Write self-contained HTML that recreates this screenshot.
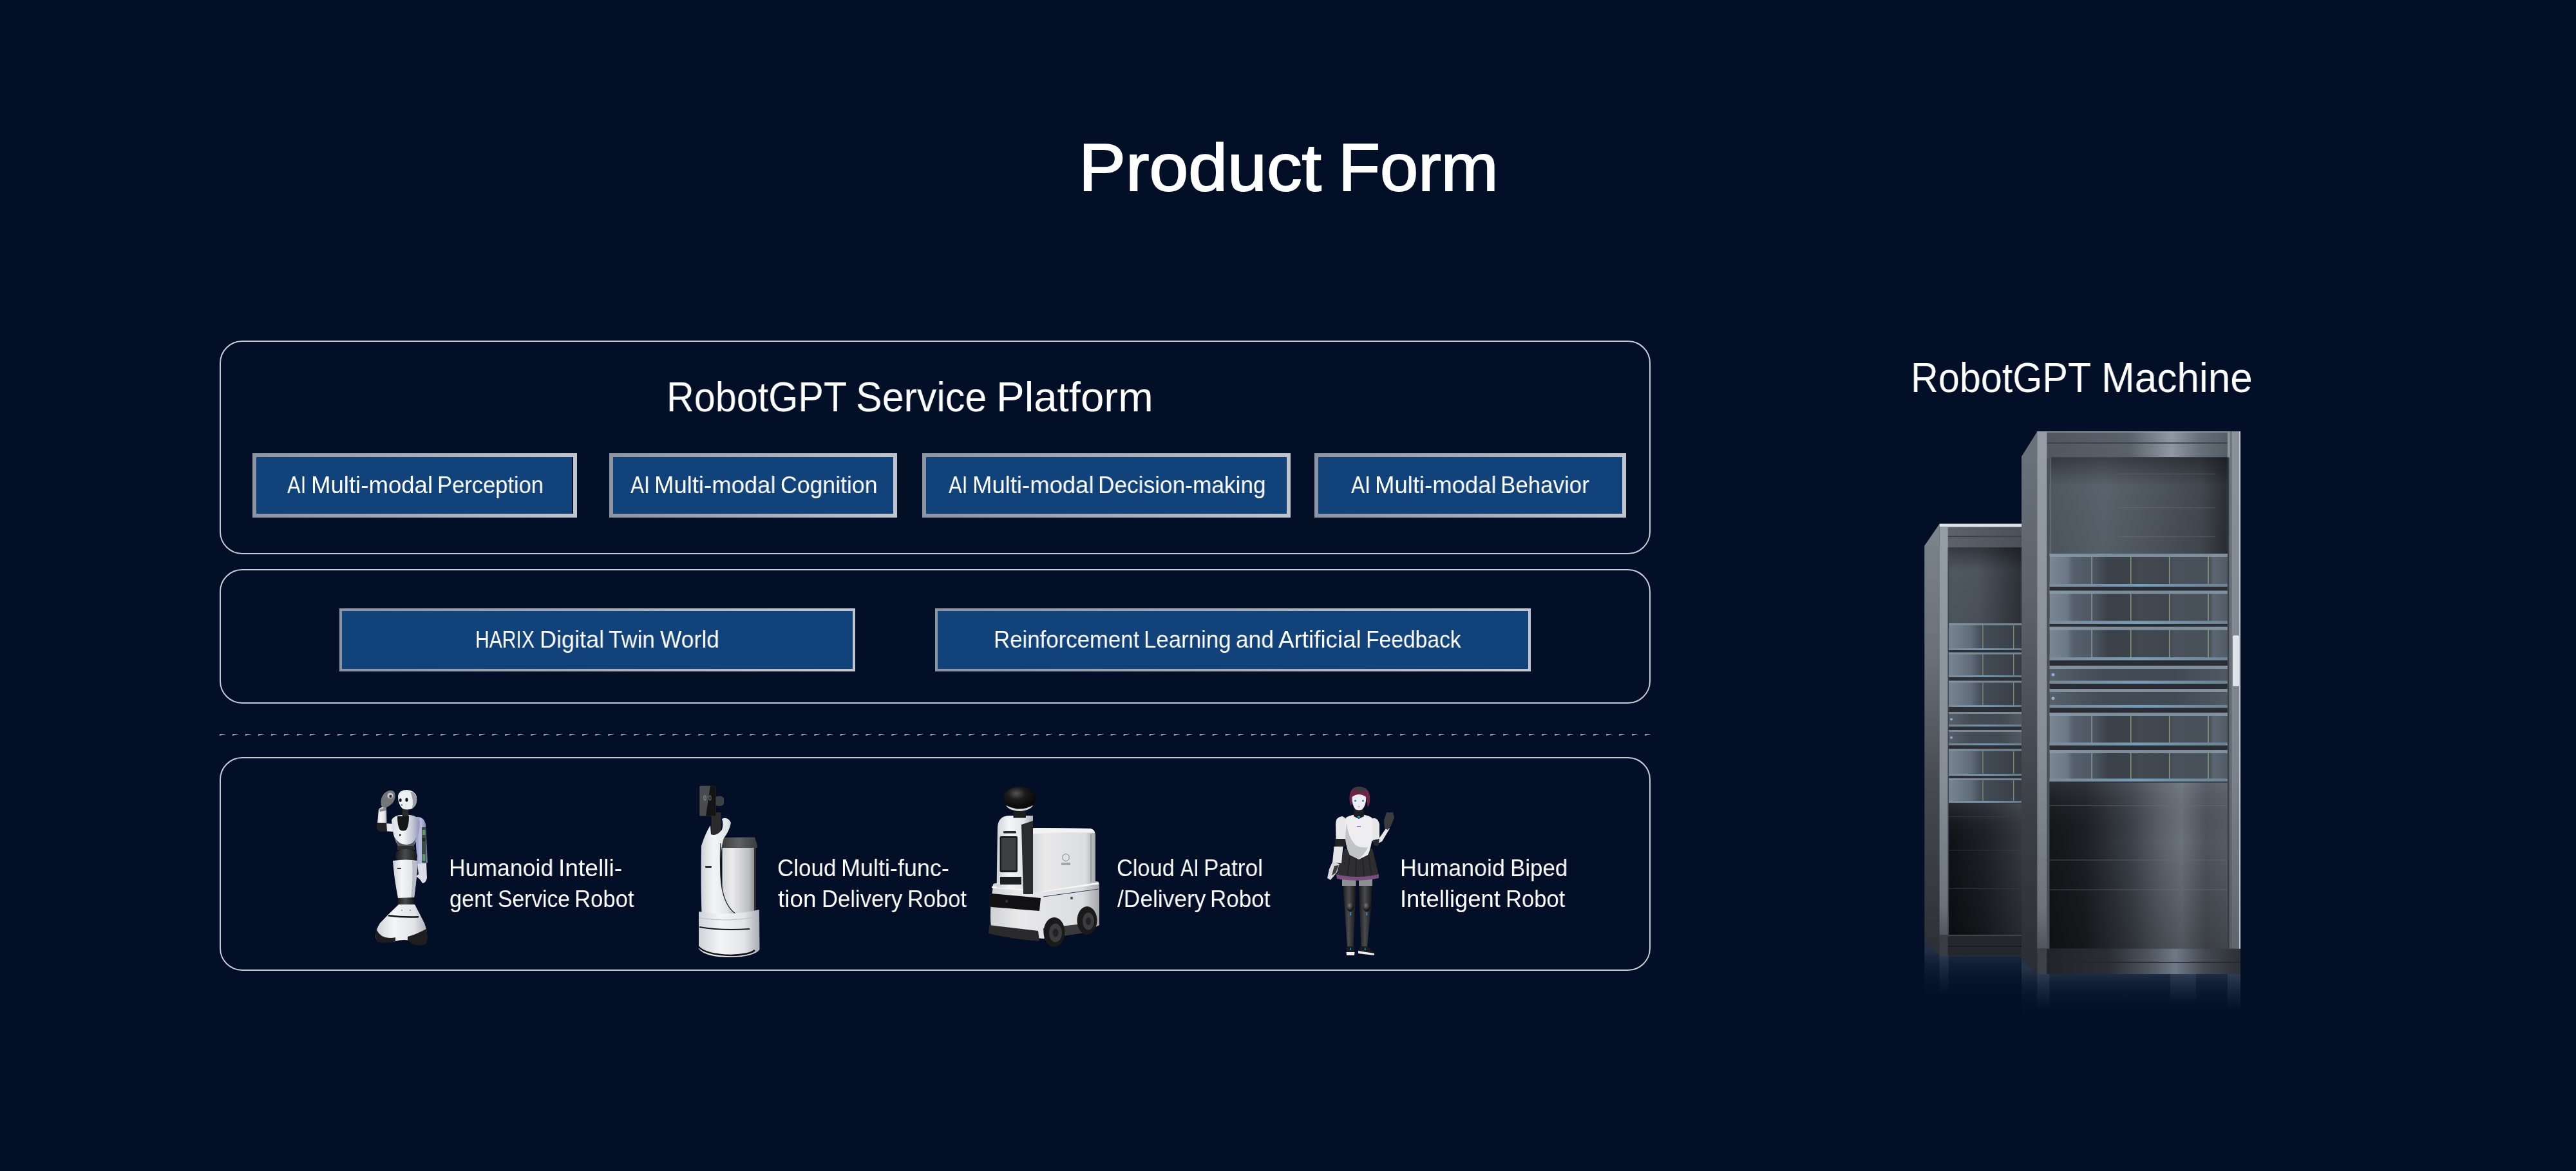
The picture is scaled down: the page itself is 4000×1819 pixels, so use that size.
<!DOCTYPE html>
<html><head><meta charset="utf-8"><title>Product Form</title>
<style>
*{margin:0;padding:0;box-sizing:border-box}
html,body{width:4000px;height:1819px;overflow:hidden;background:#020f27}
body{position:relative;font-family:"Liberation Sans",sans-serif;color:#fff}
.t{position:absolute;white-space:nowrap;line-height:1;transform-origin:0 0;will-change:transform}
.box{position:absolute;left:341px;width:2222px;border:2px solid #c8cbd3;border-radius:35px}
.btn{position:absolute;border:6px solid transparent;background:linear-gradient(#11437a,#11437a) padding-box,linear-gradient(90deg,#8d94a2,#c0c4cd) border-box}
.btn2{border-width:4px}
</style></head>
<body>

<div class="box" style="top:529px;height:332px"></div>
<div class="box" style="top:884px;height:209px"></div>
<!--DASH--><svg style="position:absolute;left:0;top:1130px" width="2600" height="20" viewBox="0 1130 2600 20"><defs><linearGradient id="dg" x1="0" y1="0" x2="1" y2="0"><stop offset="0" stop-color="#a7adba"/><stop offset="1" stop-color="#6f7688"/></linearGradient></defs><path d="M341.00,1140.1 L350.00,1139.9 L350.00,1140.5 L341.00,1143.1 Z M361.00,1140.1 L370.00,1139.9 L370.00,1140.5 L361.00,1143.1 Z M381.00,1140.1 L390.00,1139.9 L390.00,1140.5 L381.00,1143.1 Z M401.00,1140.1 L410.00,1139.9 L410.00,1140.5 L401.00,1143.1 Z M421.00,1140.1 L430.00,1139.9 L430.00,1140.5 L421.00,1143.1 Z M441.00,1140.1 L450.00,1139.9 L450.00,1140.5 L441.00,1143.1 Z M461.00,1140.1 L470.00,1139.9 L470.00,1140.5 L461.00,1143.1 Z M481.00,1140.1 L490.00,1139.9 L490.00,1140.5 L481.00,1143.1 Z M504.05,1140.1 L513.05,1139.9 L513.05,1140.5 L504.05,1143.1 Z M524.06,1140.1 L533.06,1139.9 L533.06,1140.5 L524.06,1143.1 Z M544.07,1140.1 L553.07,1139.9 L553.07,1140.5 L544.07,1143.1 Z M564.08,1140.1 L573.08,1139.9 L573.08,1140.5 L564.08,1143.1 Z M584.09,1140.1 L593.09,1139.9 L593.09,1140.5 L584.09,1143.1 Z M604.10,1140.1 L613.10,1139.9 L613.10,1140.5 L604.10,1143.1 Z M624.11,1140.1 L633.11,1139.9 L633.11,1140.5 L624.11,1143.1 Z M644.12,1140.1 L653.12,1139.9 L653.12,1140.5 L644.12,1143.1 Z M664.13,1140.1 L673.13,1139.9 L673.13,1140.5 L664.13,1143.1 Z M684.14,1140.1 L693.14,1139.9 L693.14,1140.5 L684.14,1143.1 Z M704.15,1140.1 L713.15,1139.9 L713.15,1140.5 L704.15,1143.1 Z M724.16,1140.1 L733.16,1139.9 L733.16,1140.5 L724.16,1143.1 Z M744.17,1140.1 L753.17,1139.9 L753.17,1140.5 L744.17,1143.1 Z M764.18,1140.1 L773.18,1139.9 L773.18,1140.5 L764.18,1143.1 Z M784.19,1140.1 L793.19,1139.9 L793.19,1140.5 L784.19,1143.1 Z M804.20,1140.1 L813.20,1139.9 L813.20,1140.5 L804.20,1143.1 Z M824.21,1140.1 L833.21,1139.9 L833.21,1140.5 L824.21,1143.1 Z M844.22,1140.1 L853.22,1139.9 L853.22,1140.5 L844.22,1143.1 Z M864.23,1140.1 L873.23,1139.9 L873.23,1140.5 L864.23,1143.1 Z M884.24,1140.1 L893.24,1139.9 L893.24,1140.5 L884.24,1143.1 Z M904.25,1140.1 L913.25,1139.9 L913.25,1140.5 L904.25,1143.1 Z M924.26,1140.1 L933.26,1139.9 L933.26,1140.5 L924.26,1143.1 Z M944.27,1140.1 L953.27,1139.9 L953.27,1140.5 L944.27,1143.1 Z M964.28,1140.1 L973.28,1139.9 L973.28,1140.5 L964.28,1143.1 Z M984.29,1140.1 L993.29,1139.9 L993.29,1140.5 L984.29,1143.1 Z M1004.30,1140.1 L1013.30,1139.9 L1013.30,1140.5 L1004.30,1143.1 Z M1024.31,1140.1 L1033.31,1139.9 L1033.31,1140.5 L1024.31,1143.1 Z M1044.32,1140.1 L1053.32,1139.9 L1053.32,1140.5 L1044.32,1143.1 Z M1064.33,1140.1 L1073.33,1139.9 L1073.33,1140.5 L1064.33,1143.1 Z M1084.34,1140.1 L1093.34,1139.9 L1093.34,1140.5 L1084.34,1143.1 Z M1104.35,1140.1 L1113.35,1139.9 L1113.35,1140.5 L1104.35,1143.1 Z M1124.36,1140.1 L1133.36,1139.9 L1133.36,1140.5 L1124.36,1143.1 Z M1144.38,1140.1 L1153.38,1139.9 L1153.38,1140.5 L1144.38,1143.1 Z M1164.39,1140.1 L1173.39,1139.9 L1173.39,1140.5 L1164.39,1143.1 Z M1184.40,1140.1 L1193.40,1139.9 L1193.40,1140.5 L1184.40,1143.1 Z M1204.41,1140.1 L1213.41,1139.9 L1213.41,1140.5 L1204.41,1143.1 Z M1224.42,1140.1 L1233.42,1139.9 L1233.42,1140.5 L1224.42,1143.1 Z M1244.43,1140.1 L1253.43,1139.9 L1253.43,1140.5 L1244.43,1143.1 Z M1264.44,1140.1 L1273.44,1139.9 L1273.44,1140.5 L1264.44,1143.1 Z M1284.45,1140.1 L1293.45,1139.9 L1293.45,1140.5 L1284.45,1143.1 Z M1304.46,1140.1 L1313.46,1139.9 L1313.46,1140.5 L1304.46,1143.1 Z M1324.47,1140.1 L1333.47,1139.9 L1333.47,1140.5 L1324.47,1143.1 Z M1344.48,1140.1 L1353.48,1139.9 L1353.48,1140.5 L1344.48,1143.1 Z M1364.49,1140.1 L1373.49,1139.9 L1373.49,1140.5 L1364.49,1143.1 Z M1384.50,1140.1 L1393.50,1139.9 L1393.50,1140.5 L1384.50,1143.1 Z M1404.51,1140.1 L1413.51,1139.9 L1413.51,1140.5 L1404.51,1143.1 Z M1424.52,1140.1 L1433.52,1139.9 L1433.52,1140.5 L1424.52,1143.1 Z M1444.53,1140.1 L1453.53,1139.9 L1453.53,1140.5 L1444.53,1143.1 Z M1464.54,1140.1 L1473.54,1139.9 L1473.54,1140.5 L1464.54,1143.1 Z M1484.55,1140.1 L1493.55,1139.9 L1493.55,1140.5 L1484.55,1143.1 Z M1504.56,1140.1 L1513.56,1139.9 L1513.56,1140.5 L1504.56,1143.1 Z M1524.57,1140.1 L1533.57,1139.9 L1533.57,1140.5 L1524.57,1143.1 Z M1544.58,1140.1 L1553.58,1139.9 L1553.58,1140.5 L1544.58,1143.1 Z M1564.59,1140.1 L1573.59,1139.9 L1573.59,1140.5 L1564.59,1143.1 Z M1584.60,1140.1 L1593.60,1139.9 L1593.60,1140.5 L1584.60,1143.1 Z M1604.61,1140.1 L1613.61,1139.9 L1613.61,1140.5 L1604.61,1143.1 Z M1624.62,1140.1 L1633.62,1139.9 L1633.62,1140.5 L1624.62,1143.1 Z M1644.63,1140.1 L1653.63,1139.9 L1653.63,1140.5 L1644.63,1143.1 Z M1664.64,1140.1 L1673.64,1139.9 L1673.64,1140.5 L1664.64,1143.1 Z M1684.65,1140.1 L1693.65,1139.9 L1693.65,1140.5 L1684.65,1143.1 Z M1704.66,1140.1 L1713.66,1139.9 L1713.66,1140.5 L1704.66,1143.1 Z M1724.67,1140.1 L1733.67,1139.9 L1733.67,1140.5 L1724.67,1143.1 Z M1744.68,1140.1 L1753.68,1139.9 L1753.68,1140.5 L1744.68,1143.1 Z M1764.69,1140.1 L1773.69,1139.9 L1773.69,1140.5 L1764.69,1143.1 Z M1784.70,1140.1 L1793.70,1139.9 L1793.70,1140.5 L1784.70,1143.1 Z M1802.80,1140.1 L1811.80,1139.9 L1811.80,1140.5 L1802.80,1143.1 Z M1822.80,1140.1 L1831.80,1139.9 L1831.80,1140.5 L1822.80,1143.1 Z M1842.80,1140.1 L1851.80,1139.9 L1851.80,1140.5 L1842.80,1143.1 Z M1862.80,1140.1 L1871.80,1139.9 L1871.80,1140.5 L1862.80,1143.1 Z M1882.80,1140.1 L1891.80,1139.9 L1891.80,1140.5 L1882.80,1143.1 Z M1902.80,1140.1 L1911.80,1139.9 L1911.80,1140.5 L1902.80,1143.1 Z M1922.80,1140.1 L1931.80,1139.9 L1931.80,1140.5 L1922.80,1143.1 Z M1942.80,1140.1 L1951.80,1139.9 L1951.80,1140.5 L1942.80,1143.1 Z M1957.80,1140.1 L1966.80,1139.9 L1966.80,1140.5 L1957.80,1143.1 Z M1973.90,1140.1 L1982.90,1139.9 L1982.90,1140.5 L1973.90,1143.1 Z M1994.00,1140.1 L2003.00,1139.9 L2003.00,1140.5 L1994.00,1143.1 Z M2014.00,1140.1 L2023.00,1139.9 L2023.00,1140.5 L2014.00,1143.1 Z M2034.00,1140.1 L2043.00,1139.9 L2043.00,1140.5 L2034.00,1143.1 Z M2054.00,1140.1 L2063.00,1139.9 L2063.00,1140.5 L2054.00,1143.1 Z M2074.00,1140.1 L2083.00,1139.9 L2083.00,1140.5 L2074.00,1143.1 Z M2094.00,1140.1 L2103.00,1139.9 L2103.00,1140.5 L2094.00,1143.1 Z M2114.00,1140.1 L2123.00,1139.9 L2123.00,1140.5 L2114.00,1143.1 Z M2134.00,1140.1 L2143.00,1139.9 L2143.00,1140.5 L2134.00,1143.1 Z M2154.00,1140.1 L2163.00,1139.9 L2163.00,1140.5 L2154.00,1143.1 Z M2174.00,1140.1 L2183.00,1139.9 L2183.00,1140.5 L2174.00,1143.1 Z M2194.00,1140.1 L2203.00,1139.9 L2203.00,1140.5 L2194.00,1143.1 Z M2214.00,1140.1 L2223.00,1139.9 L2223.00,1140.5 L2214.00,1143.1 Z M2234.00,1140.1 L2243.00,1139.9 L2243.00,1140.5 L2234.00,1143.1 Z M2254.00,1140.1 L2263.00,1139.9 L2263.00,1140.5 L2254.00,1143.1 Z M2274.00,1140.1 L2283.00,1139.9 L2283.00,1140.5 L2274.00,1143.1 Z M2294.00,1140.1 L2303.00,1139.9 L2303.00,1140.5 L2294.00,1143.1 Z M2314.00,1140.1 L2323.00,1139.9 L2323.00,1140.5 L2314.00,1143.1 Z M2334.00,1140.1 L2343.00,1139.9 L2343.00,1140.5 L2334.00,1143.1 Z M2354.00,1140.1 L2363.00,1139.9 L2363.00,1140.5 L2354.00,1143.1 Z M2374.00,1140.1 L2383.00,1139.9 L2383.00,1140.5 L2374.00,1143.1 Z M2394.00,1140.1 L2403.00,1139.9 L2403.00,1140.5 L2394.00,1143.1 Z M2414.00,1140.1 L2423.00,1139.9 L2423.00,1140.5 L2414.00,1143.1 Z M2434.00,1140.1 L2443.00,1139.9 L2443.00,1140.5 L2434.00,1143.1 Z M2454.00,1140.1 L2463.00,1139.9 L2463.00,1140.5 L2454.00,1143.1 Z M2474.00,1140.1 L2483.00,1139.9 L2483.00,1140.5 L2474.00,1143.1 Z M2494.00,1140.1 L2503.00,1139.9 L2503.00,1140.5 L2494.00,1143.1 Z M2514.00,1140.1 L2523.00,1139.9 L2523.00,1140.5 L2514.00,1143.1 Z M2534.00,1140.1 L2543.00,1139.9 L2543.00,1140.5 L2534.00,1143.1 Z M2554.00,1140.1 L2563.00,1139.9 L2563.00,1140.5 L2554.00,1143.1 Z" fill="#949aa8"/></svg><!--/DASH-->
<div class="box" style="top:1176px;height:332px"></div>


<div class="btn" style="left:392px;top:704px;width:504px;height:100px;box-shadow:inset -2px 0 0 #031029"></div>
<div class="btn" style="left:946px;top:704px;width:447px;height:100px"></div>
<div class="btn" style="left:1432px;top:704px;width:572px;height:100px"></div>
<div class="btn" style="left:2041px;top:704px;width:484px;height:100px"></div>

<div class="btn btn2" style="left:527px;top:945px;width:801px;height:98px"></div>
<div class="btn btn2" style="left:1452px;top:945px;width:925px;height:98px"></div>



<!--TXT--><div class="t" style="left:1674.7px;top:208.2px;font-size:104.7px;transform:scaleX(1.0449);-webkit-text-stroke:2px #fff">Product</div>
<div class="t" style="left:2077.9px;top:208.2px;font-size:104.7px;transform:scaleX(1.0173);-webkit-text-stroke:2px #fff">Form</div>
<div class="t" style="left:1035.2px;top:585.0px;font-size:64px;transform:scaleX(0.9264)">RobotGPT</div>
<div class="t" style="left:1329.3px;top:585.0px;font-size:64px;transform:scaleX(0.9529)">Service</div>
<div class="t" style="left:1546.8px;top:585.0px;font-size:64px;transform:scaleX(1.0227)">Platform</div>
<div class="t" style="left:2967.2px;top:555.1px;font-size:64px;transform:scaleX(0.9267)">RobotGPT</div>
<div class="t" style="left:3262.9px;top:555.1px;font-size:64px;transform:scaleX(0.9705)">Machine</div>
<div class="t" style="left:446.4px;top:736.2px;font-size:36.6px;transform:scaleX(0.8452)">AI</div>
<div class="t" style="left:483.2px;top:736.2px;font-size:36.6px;transform:scaleX(0.9989)">Multi-modal</div>
<div class="t" style="left:679.1px;top:736.2px;font-size:36.6px;transform:scaleX(0.9435)">Perception</div>
<div class="t" style="left:979.3px;top:736.2px;font-size:36.6px;transform:scaleX(0.8613)">AI</div>
<div class="t" style="left:1016.4px;top:736.2px;font-size:36.6px;transform:scaleX(0.9973)">Multi-modal</div>
<div class="t" style="left:1211.6px;top:736.2px;font-size:36.6px;transform:scaleX(0.9740)">Cognition</div>
<div class="t" style="left:1473.3px;top:736.1px;font-size:36.6px;transform:scaleX(0.8484)">AI</div>
<div class="t" style="left:1510.1px;top:736.1px;font-size:36.6px;transform:scaleX(0.9973)">Multi-modal</div>
<div class="t" style="left:1704.6px;top:736.1px;font-size:36.6px;transform:scaleX(0.9638)">Decision-making</div>
<div class="t" style="left:2098.3px;top:736.1px;font-size:36.6px;transform:scaleX(0.8645)">AI</div>
<div class="t" style="left:2135.1px;top:736.1px;font-size:36.6px;transform:scaleX(0.9973)">Multi-modal</div>
<div class="t" style="left:2330.1px;top:736.1px;font-size:36.6px;transform:scaleX(0.9546)">Behavior</div>
<div class="t" style="left:738.3px;top:976.1px;font-size:36.6px;transform:scaleX(0.8222)">HARIX</div>
<div class="t" style="left:838.0px;top:976.1px;font-size:36.6px;transform:scaleX(0.9854)">Digital</div>
<div class="t" style="left:945.2px;top:976.1px;font-size:36.6px;transform:scaleX(0.9569)">Twin</div>
<div class="t" style="left:1024.9px;top:976.1px;font-size:36.6px;transform:scaleX(0.9688)">World</div>
<div class="t" style="left:1542.6px;top:976.3px;font-size:36.6px;transform:scaleX(0.9515)">Reinforcement</div>
<div class="t" style="left:1776.3px;top:976.3px;font-size:36.6px;transform:scaleX(0.9526)">Learning</div>
<div class="t" style="left:1918.5px;top:976.3px;font-size:36.6px;transform:scaleX(0.9655)">and</div>
<div class="t" style="left:1985.1px;top:976.3px;font-size:36.6px;transform:scaleX(1.0056)">Artificial</div>
<div class="t" style="left:2121.1px;top:976.3px;font-size:36.6px;transform:scaleX(0.9197)">Feedback</div>
<div class="t" style="left:697.0px;top:1330.9px;font-size:36.4px;transform:scaleX(0.9776)">Humanoid</div>
<div class="t" style="left:866.8px;top:1330.9px;font-size:36.4px;transform:scaleX(1.0226)">Intelli-</div>
<div class="t" style="left:697.8px;top:1378.8px;font-size:36.4px;transform:scaleX(0.9414)">gent</div>
<div class="t" style="left:773.0px;top:1378.8px;font-size:36.4px;transform:scaleX(0.9229)">Service</div>
<div class="t" style="left:892.3px;top:1378.8px;font-size:36.4px;transform:scaleX(0.9532)">Robot</div>
<div class="t" style="left:1206.8px;top:1330.9px;font-size:36.4px;transform:scaleX(0.9626)">Cloud</div>
<div class="t" style="left:1305.9px;top:1330.9px;font-size:36.4px;transform:scaleX(0.9885)">Multi-func-</div>
<div class="t" style="left:1208.4px;top:1379.0px;font-size:36.4px;transform:scaleX(1.0140)">tion</div>
<div class="t" style="left:1275.9px;top:1379.0px;font-size:36.4px;transform:scaleX(0.9523)">Delivery</div>
<div class="t" style="left:1409.0px;top:1379.0px;font-size:36.4px;transform:scaleX(0.9468)">Robot</div>
<div class="t" style="left:1733.9px;top:1330.9px;font-size:36.4px;transform:scaleX(0.9462)">Cloud</div>
<div class="t" style="left:1832.5px;top:1330.9px;font-size:36.4px;transform:scaleX(0.8323)">AI</div>
<div class="t" style="left:1868.7px;top:1330.9px;font-size:36.4px;transform:scaleX(0.9678)">Patrol</div>
<div class="t" style="left:1734.9px;top:1378.8px;font-size:36.4px;transform:scaleX(0.9709)">/Delivery</div>
<div class="t" style="left:1878.5px;top:1378.8px;font-size:36.4px;transform:scaleX(0.9628)">Robot</div>
<div class="t" style="left:2173.8px;top:1330.9px;font-size:36.4px;transform:scaleX(0.9814)">Humanoid</div>
<div class="t" style="left:2345.0px;top:1330.9px;font-size:36.4px;transform:scaleX(0.9602)">Biped</div>
<div class="t" style="left:2173.7px;top:1378.8px;font-size:36.4px;transform:scaleX(1.0013)">Intelligent</div>
<div class="t" style="left:2337.8px;top:1378.8px;font-size:36.4px;transform:scaleX(0.9500)">Robot</div><!--/TXT-->
<!--ROB--><svg style="position:absolute;left:560px;top:1210px" width="1640" height="290" viewBox="560 1210 1640 290">
<defs>
<linearGradient id="wh" x1="0" y1="0" x2="1" y2="0"><stop offset="0" stop-color="#cfd2d8"/><stop offset=".35" stop-color="#f4f5f7"/><stop offset=".75" stop-color="#e2e4e8"/><stop offset="1" stop-color="#a9adb5"/></linearGradient>
<linearGradient id="whb" x1="0" y1="0" x2="1" y2="0"><stop offset="0" stop-color="#d9dbe0"/><stop offset=".4" stop-color="#f6f6f7"/><stop offset=".7" stop-color="#c9ccd8"/><stop offset="1" stop-color="#8f93b5"/></linearGradient>
<linearGradient id="blk" x1="0" y1="0" x2="1" y2="0"><stop offset="0" stop-color="#1a1a1c"/><stop offset=".45" stop-color="#4a4b4e"/><stop offset="1" stop-color="#151517"/></linearGradient>
<linearGradient id="cont" x1="0" y1="0" x2="1" y2="0"><stop offset="0" stop-color="#d4d5d7"/><stop offset=".3" stop-color="#ebebec"/><stop offset=".8" stop-color="#bdbec1"/><stop offset="1" stop-color="#86888c"/></linearGradient>
<linearGradient id="lid" x1="0" y1="0" x2="1" y2="0"><stop offset="0" stop-color="#3b3c3e"/><stop offset=".5" stop-color="#5f6063"/><stop offset="1" stop-color="#3a3b3d"/></linearGradient>
<linearGradient id="box3" x1="0" y1="0" x2="1" y2="0"><stop offset="0" stop-color="#d0d1d3"/><stop offset=".25" stop-color="#e9e9ea"/><stop offset=".85" stop-color="#dcdddf"/><stop offset="1" stop-color="#a5a7aa"/></linearGradient>
<linearGradient id="arm" x1="0" y1="0" x2="1" y2="0"><stop offset="0" stop-color="#8d93c8"/><stop offset=".5" stop-color="#b9bde0"/><stop offset="1" stop-color="#6e74a8"/></linearGradient>
<radialGradient id="dome" cx=".4" cy=".3" r=".7"><stop offset="0" stop-color="#555"/><stop offset=".4" stop-color="#1b1b1b"/><stop offset="1" stop-color="#050505"/></radialGradient>
<radialGradient id="knee" cx=".4" cy=".35" r=".6"><stop offset="0" stop-color="#777"/><stop offset="1" stop-color="#111"/></radialGradient>
</defs>

<!-- ===== Robot 1: humanoid service robot ===== -->
<g>
 <!-- back arm (bluish translucent) -->
 <path d="M643,1270 Q657,1266 661,1280 L664,1340 Q657,1346 648,1342 L645,1300 Z" fill="url(#arm)"/>
 <path d="M655,1285 L661,1285 L662,1340 L655,1340 Z" fill="#3c4a44"/>
 <rect x="656" y="1289" width="4.5" height="8" fill="#5d9a67"/>
 <rect x="656" y="1302" width="4.5" height="5" fill="#1d2a24"/>
 <rect x="656" y="1327" width="4.5" height="10" fill="#5d9a67"/>
 <path d="M648,1342 L662,1341 L663,1364 Q661,1372 656,1372 L652,1366 L646,1361 L650,1358 Z" fill="#dcdde6"/>
 <!-- raised arm -->
 <path d="M612,1280 L599,1279 L598,1291 L611,1292 Z" fill="#e8e9ec"/>
 <path d="M585,1281 Q585,1276 592,1276 L600,1277 L601,1291 L592,1292 Q585,1291 585,1286 Z" fill="#232325"/>
 <path d="M586,1278 L588,1257 Q593,1252 600,1254 L600.5,1278 Z" fill="url(#wh)"/>
 <path d="M589,1257 L600,1254 L600,1259 L590,1261 Z" fill="#8a8b90"/>
 <path d="M593,1254 Q590,1246 593,1238 Q597,1230 604,1228 Q611,1227 613,1232 Q615,1240 610,1247 Q604,1253 598,1255 Z" fill="#74767c"/>
 <circle cx="606" cy="1236" r="4.5" fill="#c7c9ce"/>
 <circle cx="606.5" cy="1237" r="2.2" fill="#2a2b30"/>
 <!-- torso -->
 <path d="M608,1274 Q612,1266 624,1266 L637,1266 Q648,1267 652,1276 Q652,1298 642,1314 L619,1315 Q609,1300 608,1274 Z" fill="url(#whb)"/>
 <path d="M612,1300 Q620,1313 632,1312 Q642,1312 647,1300 L642,1314 L619,1315 Z" fill="#55565e"/>
 <path d="M617,1268 L635,1268 Q635,1283 631,1289 Q626,1292 621,1289 Q617,1283 617,1268 Z" fill="#161618"/>
 <rect x="620" y="1296" width="2.5" height="2.5" fill="#141416"/>
 <path d="M617,1314 L644,1314 L644,1320 L617,1320 Z" fill="#2b2c2f"/>
 <!-- hip ball -->
 <path d="M614,1330 Q614,1319 630,1319 Q648,1319 648,1330 Q648,1338 630,1338 Q614,1338 614,1330 Z" fill="url(#blk)"/>
 <!-- skirt -->
 <path d="M610,1337 Q630,1334 649,1337 Q648,1360 643,1395 L618,1395 Q612,1365 610,1337 Z" fill="url(#wh)"/>
 <path d="M640,1337 Q648,1340 648,1345 Q646,1370 643,1395 L638,1395 Q642,1365 640,1337 Z" fill="#b8bbc8"/>
 <rect x="617" y="1348" width="6" height="1.8" fill="#222"/>
 <!-- knee band -->
 <path d="M617.5,1395 L643,1394 L643.5,1406 L618,1406 Z" fill="url(#blk)"/>
 <!-- base -->
 <path d="M619,1405 L644,1405 Q652,1420 659,1434 Q664,1446 663,1460 Q655,1468 640,1462 Q628,1458 614,1462 Q596,1467 584,1458 Q582,1446 590,1434 Q603,1420 619,1405 Z" fill="url(#wh)"/>
 <path d="M603,1421 Q626,1424 650,1423 L650,1425.5 Q626,1426.5 603,1423.5 Z" fill="#111"/>
 <circle cx="624" cy="1414" r=".8" fill="#444"/><circle cx="637" cy="1414" r=".8" fill="#444"/>
 <path d="M584,1440 Q586,1452 598,1456 Q608,1458 614,1456 L614,1462 Q598,1467 586,1463 Q582,1455 584,1440 Z" fill="#1e1e20"/>
 <path d="M633,1455 Q645,1452 662,1443 Q665,1455 662,1466 Q655,1470 645,1468 Q636,1465 633,1460 Z" fill="#1e1e20"/>
 <!-- neck & head -->
 <path d="M625,1255 L634,1255 L634.5,1268 L624.5,1268 Z" fill="#2a2a2d"/>
 <path d="M618,1236 Q620,1227 632,1227 Q645,1228 647,1238 Q648,1250 640,1256 Q632,1259 625,1256 Q618,1250 618,1236 Z" fill="#eceef1"/>
 <path d="M637,1229 Q647,1232 647.5,1242 Q647,1252 640,1256 Q643,1243 637,1229 Z" fill="#9d9fa8"/>
 <ellipse cx="621.8" cy="1243" rx="1.9" ry="2.8" fill="#111"/>
 <ellipse cx="631.5" cy="1242.5" rx="2.1" ry="3" fill="#111"/>
 <circle cx="624" cy="1250.5" r="1" fill="#333"/>
</g>

<!-- ===== Robot 2: delivery robot ===== -->
<g>
 <!-- neck -->
 <path d="M1104.5,1262 L1119.5,1262 L1119.8,1296 Q1112,1300 1104.5,1296 Z" fill="#2b2b2d"/>
 <rect x="1110" y="1236.7" width="14" height="15.3" rx="5" fill="#3e3f42"/>
 <!-- screen -->
 <rect x="1086.2" y="1220.8" width="25.3" height="46.6" rx="1.5" fill="#4a4b4e"/>
 <path d="M1103,1220.8 L1111.5,1220.8 L1111.5,1267.4 L1096,1267.4 Z" fill="#141415"/>
 <rect x="1093" y="1236" width="3" height="7" rx="1.5" fill="none" stroke="#c8c8c8" stroke-width=".6"/>
 <rect x="1101" y="1236" width="3" height="7" rx="1.5" fill="none" stroke="#c8c8c8" stroke-width=".6"/>
 <!-- container -->
 <path d="M1121,1301 L1172,1300.5 L1176,1313 L1176,1317 L1119,1317 Z" fill="url(#lid)"/>
 <rect x="1121.5" y="1317" width="51.5" height="105" fill="url(#cont)"/>
 <rect x="1171" y="1317" width="3" height="105" fill="#2d2e30"/>
 <!-- white column with curve -->
 <path d="M1089,1314 Q1095,1295 1103,1282 L1104,1296 Q1112,1300 1121,1289 Q1124,1280 1121,1272 Q1130,1268 1135,1278 Q1133,1290 1124,1302 Q1118,1318 1119,1360 Q1121,1405 1143,1420 L1089.6,1420 Q1088,1380 1089,1314 Z" fill="url(#wh)"/>
 <path d="M1119,1310 Q1118,1330 1119,1360 Q1121,1405 1143,1420" fill="none" stroke="#1e1f21" stroke-width="1.3"/>
 <rect x="1095" y="1345" width="10" height="3" rx="1" fill="#2a2a2a"/>
 <!-- base -->
 <path d="M1085,1416 Q1130,1424 1179,1413 L1179.5,1475 Q1172,1486 1135,1487 Q1095,1487 1085,1474 Z" fill="url(#wh)"/>
 <path d="M1085,1426 Q1130,1433 1179,1424" fill="none" stroke="#bbbdc0" stroke-width="1"/>
 <path d="M1086,1440 Q1120,1446 1164,1443" fill="none" stroke="#1a1a1a" stroke-width="2.2"/>
 <path d="M1084,1470 Q1095,1483 1135,1484 Q1165,1483 1172,1476" fill="none" stroke="#121212" stroke-width="2.5"/>
</g>

<!-- ===== Robot 3: patrol / delivery ===== -->
<g>
 <!-- chassis -->
 <path d="M1542,1377 Q1540,1372 1548,1372 L1600,1372 L1704,1369 Q1707,1370 1707,1376 L1707,1437 L1690,1446 L1620,1458 Q1575,1456 1540,1447 Q1535,1420 1542,1377 Z" fill="url(#box3)"/>
 <path d="M1540,1378 L1620,1384 L1706,1372" fill="none" stroke="#f6f6f7" stroke-width="3"/>
 <path d="M1620,1393 L1706,1381" fill="none" stroke="#2f3f66" stroke-width="1"/>
 <path d="M1537,1391 Q1536,1388 1540,1388 L1616,1395 L1614,1415 L1540,1409 Q1536,1408 1537,1404 Z" fill="#111113"/>
 <circle cx="1563" cy="1400" r="2.2" fill="#333"/>
 <circle cx="1664" cy="1395" r="2.2" fill="#555"/>
 <path d="M1536,1437 L1612,1446 L1614,1462 Q1572,1459 1535,1450 Z" fill="#2a2a2c"/>
 <path d="M1620,1442 L1690,1434 L1692,1448 L1622,1458 Z" fill="#3a3a3c"/>
 <!-- cargo box -->
 <path d="M1596,1291 Q1600,1286 1610,1286 L1692,1287 Q1700,1288 1701,1296 L1701,1371 L1598,1388 Z" fill="url(#box3)"/>
 <path d="M1597,1292 Q1600,1286 1610,1286 L1692,1287 Q1700,1288 1700,1294 Q1650,1291 1597,1296 Z" fill="#f3f3f4"/>
 <rect x="1693" y="1296" width="2" height="74" fill="#9a9ca0"/>
 <path d="M1650,1329 l5,-3 l5,3 l0,6 l-5,3 l-5,-3 Z" fill="none" stroke="#8a8b8f" stroke-width="1"/>
 <rect x="1648" y="1340" width="14" height="4" fill="#a5a6a9"/>
 <!-- tower -->
 <path d="M1549,1285 Q1550,1268 1566,1267 L1604,1267 L1604,1382 L1547.6,1379 Z" fill="url(#wh)"/>
 <path d="M1586,1281 L1604,1275 L1604,1389 L1589,1389 Z" fill="#2a2b2e"/>
 <rect x="1552.5" y="1299" width="27.5" height="56" rx="2" fill="#1b1b1d"/>
 <rect x="1555" y="1302" width="22.5" height="50" fill="#3e3f42"/>
 <rect x="1558" y="1291" width="20" height="3.5" rx="1" fill="#2c2d30"/>
 <rect x="1553" y="1362" width="33" height="12" fill="#1e1f21"/>
 <!-- neck & dome -->
 <rect x="1573.6" y="1258" width="19.3" height="12.5" fill="#1d1d1f"/>
 <ellipse cx="1583.3" cy="1239.5" rx="25" ry="17.5" fill="url(#dome)"/>
 <path d="M1562,1251 Q1583,1262 1604,1251 Q1600,1259 1583,1260 Q1566,1259 1562,1251 Z" fill="#d4d5d7"/>
 <!-- wheels -->
 <ellipse cx="1688" cy="1430" rx="15.5" ry="22" fill="#1a1a1b"/>
 <ellipse cx="1690" cy="1431" rx="9" ry="13.5" fill="#3c3c3e"/>
 <ellipse cx="1690" cy="1431" rx="4" ry="6" fill="#222"/>
 <ellipse cx="1637" cy="1448" rx="16.5" ry="23" fill="#1a1a1b"/>
 <ellipse cx="1639" cy="1449" rx="10" ry="14.5" fill="#3c3c3e"/>
 <ellipse cx="1639" cy="1449" rx="4.5" ry="6.5" fill="#222"/>
</g>

<!-- ===== Robot 4: biped female robot ===== -->
<g>
 <!-- legs -->
 <path d="M2085,1370 L2105.5,1370 L2104.5,1405 L2101.5,1471 L2092,1471 L2088,1412 Z" fill="url(#blk)"/>
 <path d="M2110,1370 L2131,1370 L2129,1408 L2123,1471 L2113.5,1471 L2111,1405 Z" fill="url(#blk)"/>
 <rect x="2084" y="1365" width="21.5" height="11" fill="#8e8f92"/>
 <rect x="2110" y="1365" width="21" height="11" fill="#8e8f92"/>
 <ellipse cx="2096.5" cy="1408.5" rx="5.8" ry="7.5" fill="url(#knee)"/>
 <ellipse cx="2122" cy="1408.5" rx="5.8" ry="7.5" fill="url(#knee)"/>
 <rect x="2096" y="1417" width="1.6" height="5" fill="#1aa0e0"/>
 <rect x="2121.6" y="1417" width="1.6" height="5" fill="#1aa0e0"/>
 <path d="M2091,1470 L2103,1470 L2103.5,1480 L2091,1480 Z" fill="#1b1b1d"/>
 <path d="M2090.5,1479 L2103.5,1479 L2103,1484 L2091,1484 Z" fill="#f0f0f0"/>
 <rect x="2096" y="1472" width="1.5" height="4" fill="#1aa0e0"/>
 <path d="M2112,1470 L2123,1470 L2134,1481 L2110,1479 Z" fill="#1b1b1d"/>
 <path d="M2109,1477 L2134,1481 L2133.5,1484 L2109,1481 Z" fill="#f0f0f0"/>
 <rect x="2119" y="1472" width="1.5" height="4" fill="#1aa0e0"/>
 <!-- skirt -->
 <path d="M2088,1318 Q2110,1326 2131,1318 L2141,1360 Q2108,1368 2075,1360 Z" fill="#2e2e31"/>
 <path d="M2096,1330 L2092,1362 M2106,1332 L2105,1364 M2116,1332 L2118,1364 M2125,1328 L2130,1362" stroke="#1c1c1e" stroke-width="1"/>
 <path d="M2075,1358 Q2108,1366 2141,1358 L2141,1364 Q2108,1371 2076,1365 Z" fill="#7a4e80"/>
 <!-- left arm -->
 <path d="M2074,1280 Q2074,1269 2084,1268 Q2091,1270 2091,1280 L2089.5,1304 L2074.5,1304 Z" fill="#e8e8eb"/>
 <rect x="2073" y="1303" width="17" height="12" rx="3" fill="#232325"/>
 <path d="M2071.5,1315 L2085.5,1315 L2083,1341 L2069,1340 Z" fill="#e6e6e9"/>
 <path d="M2069,1339 L2080,1342 L2076,1355 L2066,1367 L2061,1364 L2064,1350 Z" fill="#d9d9dc"/>
 <path d="M2072,1345 L2079,1344 L2074,1356 L2068,1360 Z" fill="#3a3a3d"/>
 <!-- right arm -->
 <path d="M2129,1272 Q2139,1268 2142,1280 L2142,1304 L2130,1306 Z" fill="#e6e6e9"/>
 <path d="M2131,1306 L2141,1303 L2154,1284 L2158,1287 L2146,1307 L2136,1312 Z" fill="#e6e6e8"/>
 <path d="M2132,1305 L2142,1303 L2140,1314 L2133,1313 Z" fill="#2a2a2c"/>
 <path d="M2150,1287 L2149,1274 L2153,1262 L2163,1262 L2165,1270 L2160,1283 L2155,1289 Z" fill="#3c3c40"/>
 <!-- torso -->
 <path d="M2089,1272 Q2092,1266 2110,1265 Q2128,1266 2131,1272 L2131,1300 Q2129,1318 2124,1328 L2110,1335 L2096,1328 Q2090,1316 2089,1300 Z" fill="#eeeef1"/>
 <path d="M2091,1278 Q2093,1300 2104,1312 Q2112,1318 2124,1316 Q2120,1326 2110,1334 L2096,1328 Q2090,1316 2089,1300 Z" fill="#c2c3c7"/>
 <rect x="2107" y="1283" width="6" height="1.5" fill="#b050e0"/>
 <!-- neck & head -->
 <path d="M2103,1254 L2117,1254 L2118,1268 L2110,1272 L2102,1268 Z" fill="#1d1d20"/>
 <rect x="2108" y="1268" width="4" height="2" fill="#1aa0e0"/>
 <path d="M2096,1234 Q2098,1222 2111,1222 Q2125,1223 2127,1236 Q2128,1248 2124,1254 L2121,1240 Q2110,1233 2100,1240 L2098,1253 Q2094,1244 2096,1234 Z" fill="#6e2443"/>
 <path d="M2099.5,1238 Q2110,1230 2121,1238 Q2122,1251 2115,1257.5 Q2110,1259.5 2105,1257.5 Q2099,1251 2099.5,1238 Z" fill="#eceef2"/>
 <path d="M2102,1224 Q2110,1220 2122,1225 L2118,1231 Q2110,1227 2105,1230 Z" fill="#3a3b3e"/>
 <circle cx="2104.5" cy="1244" r="1.5" fill="#3a7fc0"/>
 <circle cx="2116.5" cy="1244" r="1.5" fill="#3a7fc0"/>
 <rect x="2109" y="1252.5" width="2.5" height="1" fill="#e07090"/>
</g>
</svg>
<!--/ROB-->
<!--SRV--><svg class="srv" style="position:absolute;left:2960px;top:650px" width="540" height="950" viewBox="2960 650 540 950">
<defs>
<linearGradient id="tSide" x1="0" y1="0" x2="0" y2="1"><stop offset="0" stop-color="#6a727b"/><stop offset=".3" stop-color="#5c636c"/><stop offset=".7" stop-color="#3c4046"/><stop offset="1" stop-color="#2a2d32"/></linearGradient>
<linearGradient id="sSide" x1="0" y1="0" x2="0" y2="1"><stop offset="0" stop-color="#7c848d"/><stop offset=".3" stop-color="#6a717a"/><stop offset=".6" stop-color="#474b51"/><stop offset="1" stop-color="#2c2f34"/></linearGradient>
<linearGradient id="frameV" x1="0" y1="0" x2="0" y2="1"><stop offset="0" stop-color="#7d868f"/><stop offset=".6" stop-color="#6c747d"/><stop offset="1" stop-color="#4a5058"/></linearGradient>
<linearGradient id="band" x1="0" y1="0" x2="1" y2="0"><stop offset="0" stop-color="#4f565f"/><stop offset=".45" stop-color="#59616a"/><stop offset=".66" stop-color="#8f99a3"/><stop offset=".8" stop-color="#66707a"/><stop offset="1" stop-color="#4d545c"/></linearGradient>
<linearGradient id="bandS" x1="0" y1="0" x2="1" y2="0"><stop offset="0" stop-color="#5d656e"/><stop offset="1" stop-color="#4a5159"/></linearGradient>
<linearGradient id="blankT" x1="0" y1="0" x2="1" y2="0"><stop offset="0" stop-color="#4f5861"/><stop offset=".3" stop-color="#5a636d"/><stop offset=".6" stop-color="#4d555e"/><stop offset=".85" stop-color="#41484f"/><stop offset="1" stop-color="#2a2e33"/></linearGradient>
<linearGradient id="blankTv" x1="0" y1="0" x2="0" y2="1"><stop offset="0" stop-color="#000" stop-opacity=".35"/><stop offset=".3" stop-color="#000" stop-opacity="0"/><stop offset="1" stop-color="#000" stop-opacity=".05"/></linearGradient>
<linearGradient id="blankS" x1="0" y1="0" x2="1" y2="0"><stop offset="0" stop-color="#4f5862"/><stop offset=".4" stop-color="#4c545e"/><stop offset="1" stop-color="#2b3035"/></linearGradient>
<linearGradient id="drvT" x1="0" y1="0" x2="1" y2="0">
 <stop offset="0" stop-color="#7a8795"/><stop offset=".1" stop-color="#6c7886"/><stop offset=".13" stop-color="#56616d"/><stop offset=".24" stop-color="#4e5864"/>
 <stop offset=".33" stop-color="#3a4149"/><stop offset=".45" stop-color="#3b424a"/><stop offset=".5" stop-color="#424951"/><stop offset=".67" stop-color="#3f464e"/>
 <stop offset=".7" stop-color="#4a525c"/><stop offset=".9" stop-color="#474f58"/><stop offset=".92" stop-color="#5c6671"/><stop offset="1" stop-color="#525c66"/></linearGradient>
<linearGradient id="drvS" x1="0" y1="0" x2="1" y2="0">
 <stop offset="0" stop-color="#788593"/><stop offset=".3" stop-color="#606c79"/><stop offset=".45" stop-color="#434b55"/><stop offset="1" stop-color="#363d45"/></linearGradient>
<linearGradient id="svT" x1="0" y1="0" x2="1" y2="0">
 <stop offset="0" stop-color="#56606b"/><stop offset=".3" stop-color="#434b55"/><stop offset=".7" stop-color="#414952"/><stop offset="1" stop-color="#515a64"/></linearGradient>
<linearGradient id="hiB" x1="0" y1="0" x2="1" y2="0"><stop offset="0" stop-color="#7d8d9c"/><stop offset=".5" stop-color="#7fa7c6"/><stop offset="1" stop-color="#6f8899"/></linearGradient>
<linearGradient id="lowT" x1="0" y1="0" x2="1" y2="0"><stop offset="0" stop-color="#141619"/><stop offset=".2" stop-color="#1c1f23"/><stop offset=".45" stop-color="#3a4048"/><stop offset=".62" stop-color="#5a616a"/><stop offset=".74" stop-color="#6a727b"/><stop offset=".88" stop-color="#4e545c"/><stop offset="1" stop-color="#565d66"/></linearGradient>
<linearGradient id="lowTv" x1="0" y1="0" x2="0" y2="1"><stop offset="0" stop-color="#9aa3ad" stop-opacity=".16"/><stop offset=".35" stop-color="#000" stop-opacity="0"/><stop offset="1" stop-color="#000" stop-opacity=".25"/></linearGradient>
<linearGradient id="lowS" x1="0" y1="0" x2="1" y2="0"><stop offset="0" stop-color="#0f1115"/><stop offset=".5" stop-color="#1d2025"/><stop offset="1" stop-color="#34383f"/></linearGradient>
<linearGradient id="baseT" x1="0" y1="0" x2="1" y2="0"><stop offset="0" stop-color="#1f2227"/><stop offset=".35" stop-color="#2a2e34"/><stop offset=".55" stop-color="#4d555e"/><stop offset=".68" stop-color="#6f7a86"/><stop offset=".82" stop-color="#434a52"/><stop offset="1" stop-color="#2c3035"/></linearGradient>
<linearGradient id="refl" x1="0" y1="0" x2="0" y2="1"><stop offset="0" stop-color="#3b4658" stop-opacity=".55"/><stop offset=".3" stop-color="#1e2a42" stop-opacity=".45"/><stop offset=".75" stop-color="#0a1832" stop-opacity=".2"/><stop offset="1" stop-color="#020f2a" stop-opacity="0"/></linearGradient>
<linearGradient id="strip" x1="0" y1="0" x2="0" y2="1"><stop offset="0" stop-color="#959ea7"/><stop offset=".6" stop-color="#858e97"/><stop offset=".88" stop-color="#6c737b"/><stop offset="1" stop-color="#3e434a"/></linearGradient>
<linearGradient id="rframe" x1="0" y1="0" x2="0" y2="1"><stop offset="0" stop-color="#8a939b"/><stop offset=".6" stop-color="#7c858d"/><stop offset="1" stop-color="#5a6169"/></linearGradient>
<linearGradient id="reflA" gradientUnits="userSpaceOnUse" x1="0" y1="1470" x2="0" y2="1585"><stop offset="0" stop-color="#3b4658" stop-opacity=".6"/><stop offset=".3" stop-color="#1e2a42" stop-opacity=".5"/><stop offset=".7" stop-color="#0a1832" stop-opacity=".25"/><stop offset="1" stop-color="#020f2a" stop-opacity="0"/></linearGradient>
<linearGradient id="reflS" gradientUnits="userSpaceOnUse" x1="0" y1="1475" x2="0" y2="1565"><stop offset="0" stop-color="#3b4658" stop-opacity=".6"/><stop offset=".3" stop-color="#1e2a42" stop-opacity=".45"/><stop offset=".7" stop-color="#0a1832" stop-opacity=".2"/><stop offset="1" stop-color="#020f2a" stop-opacity="0"/></linearGradient>
<linearGradient id="reflT" gradientUnits="userSpaceOnUse" x1="0" y1="1505" x2="0" y2="1590"><stop offset="0" stop-color="#3b4658" stop-opacity=".65"/><stop offset=".3" stop-color="#1e2a42" stop-opacity=".5"/><stop offset=".7" stop-color="#0a1832" stop-opacity=".2"/><stop offset="1" stop-color="#020f2a" stop-opacity="0"/></linearGradient>
<linearGradient id="reflStripe" x1="0" y1="0" x2="0" y2="1"><stop offset="0" stop-color="#6a7890" stop-opacity=".35"/><stop offset="1" stop-color="#6a7890" stop-opacity="0"/></linearGradient>
</defs>
<polygon points="2988.3,847.8 3011.7,813.7 3011.7,1484.5 2988.3,1460.8" fill="url(#sSide)"/>
<rect x="3011.7" y="813.7" width="128.5" height="670.8" fill="url(#frameV)"/>
<rect x="3011.7" y="813.7" width="128.5" height="5" fill="#dfe3e7"/>
<rect x="3011.7" y="818.7" width="128.5" height="31.7" fill="url(#bandS)"/>
<rect x="3011.7" y="832.5" width="128.5" height="1.6" fill="#3a3f46"/>
<rect x="3011.7" y="818.7" width="13" height="666" fill="url(#strip)"/>
<rect x="3024.5" y="850.4" width="1.7" height="602" fill="#3f454c"/>
<rect x="3026.2" y="850.4" width="114" height="601.6" fill="#2c3036"/>
<rect x="3026.2" y="850.4" width="114" height="117.8" fill="url(#blankS)"/>
<rect x="3026.2" y="850.4" width="114" height="117.8" fill="url(#blankTv)"/>
<rect x="3026.2" y="968.2" width="114" height="41.8" fill="url(#drvS)"/>
<rect x="3026.2" y="968.2" width="114" height="3" fill="#8696a6" opacity=".8"/>
<rect x="3026.2" y="1007.0" width="114" height="3" fill="url(#hiB)" opacity=".8"/>
<rect x="3078.2" y="971.2" width="1.4" height="35.8" fill="#b7d09a" opacity=".5"/>
<rect x="3126.0" y="971.2" width="1.4" height="35.8" fill="#b7d09a" opacity=".5"/>
<rect x="3026.2" y="1013.5" width="114" height="38.5" fill="url(#drvS)"/>
<rect x="3026.2" y="1013.5" width="114" height="3" fill="#8696a6" opacity=".8"/>
<rect x="3026.2" y="1049.0" width="114" height="3" fill="url(#hiB)" opacity=".8"/>
<rect x="3078.2" y="1016.5" width="1.4" height="32.5" fill="#b7d09a" opacity=".5"/>
<rect x="3126.0" y="1016.5" width="1.4" height="32.5" fill="#b7d09a" opacity=".5"/>
<rect x="3026.2" y="1057.5" width="114" height="40.5" fill="url(#drvS)"/>
<rect x="3026.2" y="1057.5" width="114" height="3" fill="#8696a6" opacity=".8"/>
<rect x="3026.2" y="1095.0" width="114" height="3" fill="url(#hiB)" opacity=".8"/>
<rect x="3078.2" y="1060.5" width="1.4" height="34.5" fill="#b7d09a" opacity=".5"/>
<rect x="3126.0" y="1060.5" width="1.4" height="34.5" fill="#b7d09a" opacity=".5"/>
<rect x="3026.2" y="1106" width="114" height="22.5" fill="url(#svT)"/>
<rect x="3026.2" y="1106" width="114" height="3" fill="#8696a6" opacity=".8"/>
<rect x="3026.2" y="1125.5" width="114" height="3" fill="url(#hiB)" opacity=".8"/>
<circle cx="3030" cy="1117.2" r="2" fill="#8fb0d0"/>
<rect x="3026.2" y="1134" width="114" height="23.5" fill="url(#svT)"/>
<rect x="3026.2" y="1134" width="114" height="3" fill="#8696a6" opacity=".8"/>
<rect x="3026.2" y="1154.5" width="114" height="3" fill="url(#hiB)" opacity=".8"/>
<circle cx="3030" cy="1145.8" r="2" fill="#8fb0d0"/>
<rect x="3026.2" y="1163.5" width="114" height="41.5" fill="url(#drvS)"/>
<rect x="3026.2" y="1163.5" width="114" height="3" fill="#8696a6" opacity=".8"/>
<rect x="3026.2" y="1202.0" width="114" height="3" fill="url(#hiB)" opacity=".8"/>
<rect x="3078.2" y="1166.5" width="1.4" height="35.5" fill="#b7d09a" opacity=".5"/>
<rect x="3126.0" y="1166.5" width="1.4" height="35.5" fill="#b7d09a" opacity=".5"/>
<rect x="3026.2" y="1209" width="114" height="38.0" fill="url(#drvS)"/>
<rect x="3026.2" y="1209" width="114" height="3" fill="#8696a6" opacity=".8"/>
<rect x="3026.2" y="1244.0" width="114" height="3" fill="url(#hiB)" opacity=".8"/>
<rect x="3078.2" y="1212" width="1.4" height="32.0" fill="#b7d09a" opacity=".5"/>
<rect x="3126.0" y="1212" width="1.4" height="32.0" fill="#b7d09a" opacity=".5"/>
<rect x="3026.2" y="1248" width="114" height="204" fill="url(#lowS)"/>
<rect x="3026.2" y="1248" width="114" height="204" fill="url(#lowTv)"/>
<rect x="3026.2" y="1268" width="114" height="1" fill="#3a3f45" opacity=".7"/>
<rect x="3026.2" y="1320" width="114" height="1" fill="#3a3f45" opacity=".7"/>
<rect x="3026.2" y="1380" width="114" height="1" fill="#3a3f45" opacity=".7"/>
<rect x="3011.7" y="1452" width="128.5" height="32.5" fill="#24272c"/>
<rect x="3011.7" y="1452" width="128.5" height="2" fill="#3e444b"/>
<rect x="3011.7" y="1469" width="128.5" height="1.5" fill="#15171a"/>
<rect x="3011.7" y="1452" width="13" height="32.5" fill="#3a3e44"/>
<polygon points="3139,709.2 3163.4,670.3 3163.4,1513 3139,1487.5" fill="url(#tSide)"/>
<rect x="3163.4" y="670.3" width="315.6" height="842.7" fill="url(#frameV)"/>
<rect x="3163.4" y="670.3" width="315.6" height="40.1" fill="url(#band)"/>
<rect x="3163.4" y="687.3" width="315.6" height="1.8" fill="#3a3f46"/>
<rect x="3163.4" y="670.3" width="315.6" height="1.2" fill="#a9b1b9"/>
<rect x="3163.4" y="670.3" width="15" height="842.7" fill="url(#strip)"/>
<rect x="3178.4" y="710.4" width="4.2" height="763.3" fill="#4a5058"/>
<rect x="3458.8" y="670.3" width="20.2" height="842.7" fill="url(#rframe)"/>
<rect x="3458.8" y="710.4" width="3" height="763.3" fill="#3a3f46"/>
<rect x="3463.5" y="670.3" width="1.5" height="842.7" fill="#4f565e"/>
<rect x="3477" y="670.3" width="2" height="842.7" fill="#c2c8ce"/>
<rect x="3182.6" y="710.4" width="276.2" height="763.3" fill="#2a2e34"/>
<rect x="3182.6" y="710.4" width="276.2" height="149.6" fill="url(#blankT)"/>
<rect x="3182.6" y="710.4" width="276.2" height="149.6" fill="url(#blankTv)"/>
<rect x="3290" y="735.5" width="150" height="1.2" fill="#7b8590" opacity=".3"/>
<rect x="3290" y="788" width="150" height="1.2" fill="#7b8590" opacity=".3"/>
<rect x="3290" y="833" width="150" height="1.2" fill="#7b8590" opacity=".3"/>
<rect x="3182.6" y="710.4" width="2" height="149.6" fill="#6d7680" opacity=".7"/>
<rect x="3182.6" y="860" width="276.2" height="51.5" fill="url(#drvT)"/>
<rect x="3182.6" y="860" width="276.2" height="5" fill="#8a9aa9" opacity=".85"/>
<rect x="3182.6" y="907.0" width="276.2" height="4.5" fill="url(#hiB)" opacity=".9"/>
<rect x="3247.3" y="865" width="1.6" height="42.0" fill="#bcd59d" opacity=".55"/>
<rect x="3308.0" y="865" width="1.6" height="42.0" fill="#bcd59d" opacity=".55"/>
<rect x="3367.9" y="865" width="1.6" height="42.0" fill="#bcd59d" opacity=".55"/>
<rect x="3428.2" y="865" width="1.6" height="42.0" fill="#bcd59d" opacity=".55"/>
<rect x="3182.6" y="917.6" width="276.2" height="51.4" fill="url(#drvT)"/>
<rect x="3182.6" y="917.6" width="276.2" height="5" fill="#8a9aa9" opacity=".85"/>
<rect x="3182.6" y="964.5" width="276.2" height="4.5" fill="url(#hiB)" opacity=".9"/>
<rect x="3247.3" y="922.6" width="1.6" height="41.9" fill="#bcd59d" opacity=".55"/>
<rect x="3308.0" y="922.6" width="1.6" height="41.9" fill="#bcd59d" opacity=".55"/>
<rect x="3367.9" y="922.6" width="1.6" height="41.9" fill="#bcd59d" opacity=".55"/>
<rect x="3428.2" y="922.6" width="1.6" height="41.9" fill="#bcd59d" opacity=".55"/>
<rect x="3182.6" y="973.7" width="276.2" height="51.8" fill="url(#drvT)"/>
<rect x="3182.6" y="973.7" width="276.2" height="5" fill="#8a9aa9" opacity=".85"/>
<rect x="3182.6" y="1021.0" width="276.2" height="4.5" fill="url(#hiB)" opacity=".9"/>
<rect x="3247.3" y="978.7" width="1.6" height="42.3" fill="#bcd59d" opacity=".55"/>
<rect x="3308.0" y="978.7" width="1.6" height="42.3" fill="#bcd59d" opacity=".55"/>
<rect x="3367.9" y="978.7" width="1.6" height="42.3" fill="#bcd59d" opacity=".55"/>
<rect x="3428.2" y="978.7" width="1.6" height="42.3" fill="#bcd59d" opacity=".55"/>
<rect x="3182.6" y="1034" width="276.2" height="28.0" fill="url(#svT)"/>
<rect x="3182.6" y="1034" width="276.2" height="5" fill="#8a9aa9" opacity=".85"/>
<rect x="3182.6" y="1057.5" width="276.2" height="4.5" fill="url(#hiB)" opacity=".9"/>
<circle cx="3188" cy="1048.0" r="2.5" fill="#8fb0d0"/>
<rect x="3182.6" y="1070" width="276.2" height="29.5" fill="url(#svT)"/>
<rect x="3182.6" y="1070" width="276.2" height="5" fill="#8a9aa9" opacity=".85"/>
<rect x="3182.6" y="1095.0" width="276.2" height="4.5" fill="url(#hiB)" opacity=".9"/>
<circle cx="3188" cy="1084.8" r="2.5" fill="#8fb0d0"/>
<rect x="3182.6" y="1107" width="276.2" height="51.0" fill="url(#drvT)"/>
<rect x="3182.6" y="1107" width="276.2" height="5" fill="#8a9aa9" opacity=".85"/>
<rect x="3182.6" y="1153.5" width="276.2" height="4.5" fill="url(#hiB)" opacity=".9"/>
<rect x="3247.3" y="1112" width="1.6" height="41.5" fill="#bcd59d" opacity=".55"/>
<rect x="3308.0" y="1112" width="1.6" height="41.5" fill="#bcd59d" opacity=".55"/>
<rect x="3367.9" y="1112" width="1.6" height="41.5" fill="#bcd59d" opacity=".55"/>
<rect x="3428.2" y="1112" width="1.6" height="41.5" fill="#bcd59d" opacity=".55"/>
<rect x="3182.6" y="1165" width="276.2" height="49.0" fill="url(#drvT)"/>
<rect x="3182.6" y="1165" width="276.2" height="5" fill="#8a9aa9" opacity=".85"/>
<rect x="3182.6" y="1209.5" width="276.2" height="4.5" fill="url(#hiB)" opacity=".9"/>
<rect x="3247.3" y="1170" width="1.6" height="39.5" fill="#bcd59d" opacity=".55"/>
<rect x="3308.0" y="1170" width="1.6" height="39.5" fill="#bcd59d" opacity=".55"/>
<rect x="3367.9" y="1170" width="1.6" height="39.5" fill="#bcd59d" opacity=".55"/>
<rect x="3428.2" y="1170" width="1.6" height="39.5" fill="#bcd59d" opacity=".55"/>
<rect x="3182.6" y="1215.6" width="276.2" height="258.1" fill="url(#lowT)"/>
<rect x="3182.6" y="1215.6" width="276.2" height="258.1" fill="url(#lowTv)"/>
<rect x="3182.6" y="1250.8" width="276.2" height="1.3" fill="#6b737c" opacity=".45"/>
<rect x="3182.6" y="1335.3" width="276.2" height="1.3" fill="#6b737c" opacity=".45"/>
<rect x="3182.6" y="1381.5" width="276.2" height="1.3" fill="#6b737c" opacity=".45"/>
<rect x="3163.4" y="1473.7" width="315.6" height="39.3" fill="url(#baseT)"/>
<rect x="3163.4" y="1494" width="315.6" height="1.6" fill="#23272c"/>
<rect x="3163.4" y="1473.7" width="15" height="39.3" fill="#3c4147"/>
<rect x="3467" y="987" width="10" height="79" rx="2" fill="#dfe4e8"/>
<polygon points="2988.3,1460.8 3011.7,1484.5 3139,1484.5 3139,1565 2988.3,1565" fill="url(#reflS)"/>
<polygon points="3139,1487.5 3163.4,1513 3479,1513 3479,1590 3139,1590" fill="url(#reflT)"/>
<rect x="3011.7" y="1484.5" width="14" height="60.5" fill="url(#reflStripe)" opacity=".6"/>
<rect x="3163.4" y="1513" width="19" height="57" fill="url(#reflStripe)" opacity=".6"/>
<rect x="3459" y="1513" width="20" height="57" fill="url(#reflStripe)" opacity=".6"/>
<rect x="3370" y="1513" width="40" height="47" fill="url(#reflStripe)" opacity=".6"/>
</svg><!--/SRV-->
</body></html>
